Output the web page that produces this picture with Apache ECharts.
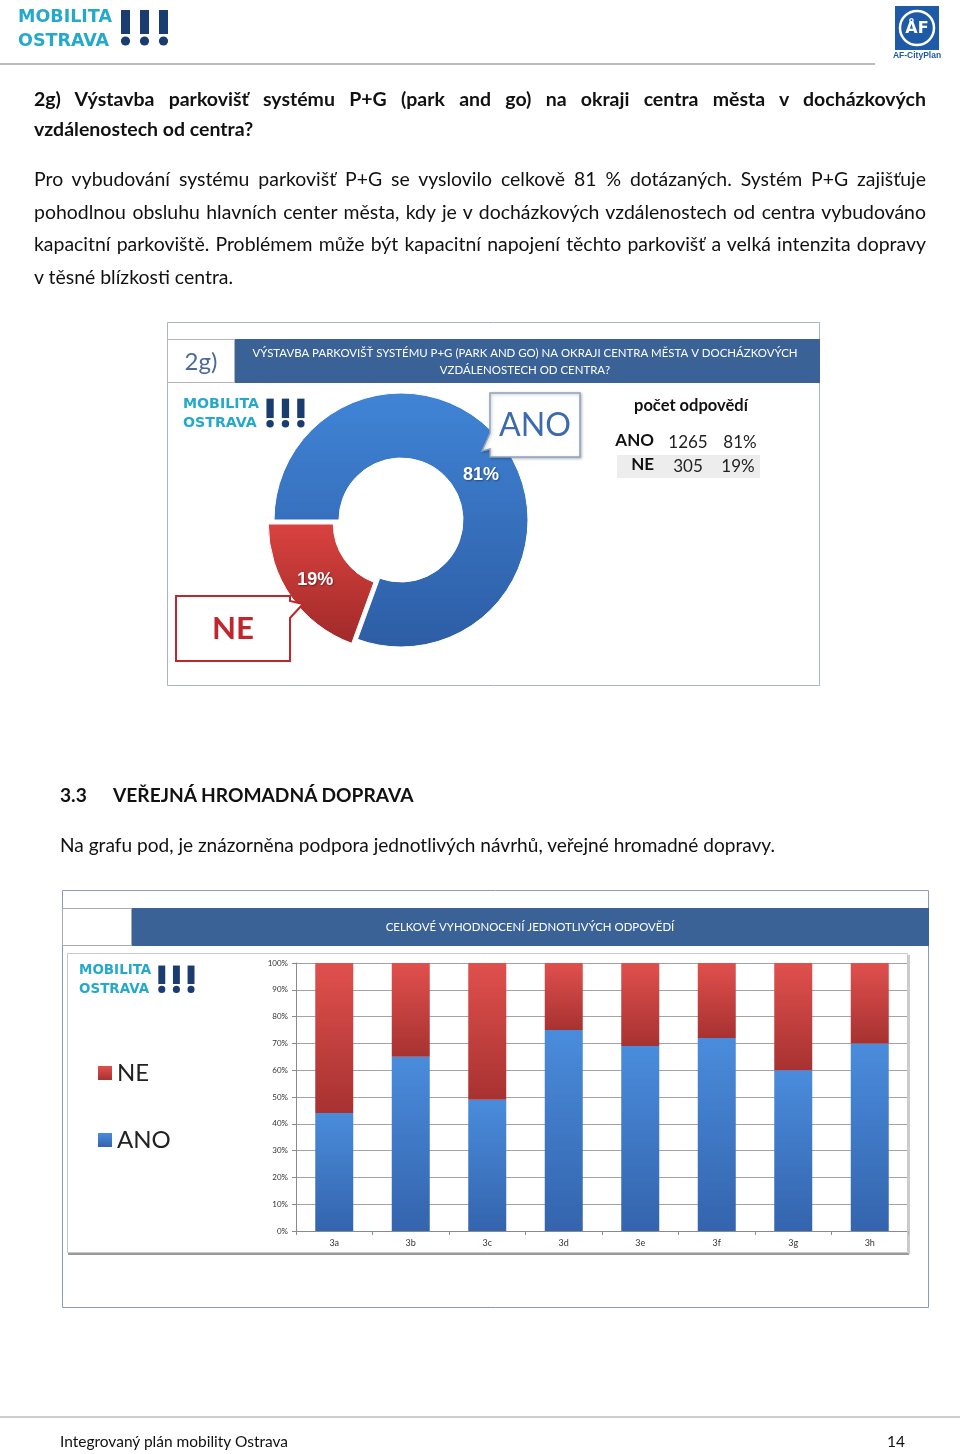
<!DOCTYPE html>
<html><head><meta charset="utf-8">
<script src="https://cdn.jsdelivr.net/npm/echarts@6/dist/echarts.min.js"></script>
<style>
html,body{margin:0;padding:0;background:#fff;}
#page{position:relative;width:960px;height:1454px;overflow:hidden;}
#chart{position:absolute;left:0;top:0;width:960px;height:1454px;}
.t{position:absolute;font-family:Lato,"Open Sans",sans-serif;color:#111;white-space:nowrap;}
.j{text-align:justify;text-align-last:justify;white-space:normal;}
</style></head>
<body><div id="page"><div id="chart"></div></div>
<script>
// ---------- data ----------
const pieNames = ['ANO', 'NE'];
const pieCounts = [1265, 305];
const categories = ['3a', '3b', '3c', '3d', '3e', '3f', '3g', '3h'];
const anoValues = [44, 65, 49, 75, 69, 72, 60, 70];
const neValues  = [56, 35, 51, 25, 31, 28, 40, 30];
const yTicks = [0, 10, 20, 30, 40, 50, 60, 70, 80, 90, 100];

const headingLines = ['2g) Výstavba parkovišť systému P+G (park and go) na okraji centra města v docházkových', 'vzdálenostech od centra?'];
const paraLines = [
  'Pro vybudování systému parkovišť P+G se vyslovilo celkově 81 % dotázaných. Systém P+G zajišťuje',
  'pohodlnou obsluhu hlavních center města, kdy je v docházkových vzdálenostech od centra vybudováno',
  'kapacitní parkoviště. Problémem může být kapacitní napojení těchto parkovišť a velká intenzita dopravy',
  'v těsné blízkosti centra.'
];
const sectionNum = '3.3';
const sectionTitle = 'VEŘEJNÁ HROMADNÁ DOPRAVA';
const captionText = 'Na grafu pod, je znázorněna podpora jednotlivých návrhů, veřejné hromadné dopravy.';
const footerText = 'Integrovaný plán mobility Ostrava';
const pageNum = '14';
const chart1Title = ['VÝSTAVBA PARKOVIŠŤ SYSTÉMU P+G (PARK AND GO) NA OKRAJI CENTRA MĚSTA V DOCHÁZKOVÝCH', 'VZDÁLENOSTECH OD CENTRA?'];
const chart2Title = 'CELKOVÉ VYHODNOCENÍ JEDNOTLIVÝCH ODPOVĚDÍ';
const tableTitle = 'počet odpovědí';

// ---------- helpers ----------
const cv = document.createElement('canvas').getContext('2d');
function measure(txt, weight, size, fam) { cv.font = weight + ' ' + size + 'px ' + fam; return cv.measureText(txt).width; }
function fit(txt, weight, fam, target) { return 100 * target / measure(txt, weight, 100, fam); }

const page = document.getElementById('page');
function addLine(txt, x, y, size, opts) {
  opts = opts || {};
  const d = document.createElement('div');
  d.className = 't' + (opts.w ? ' j' : '');
  d.textContent = txt;
  d.style.left = x + 'px';
  d.style.top = (y - 0.56 * size - 2) + 'px';
  d.style.fontSize = size + 'px';
  d.style.lineHeight = (1.2 * size) + 'px';
  if (opts.w) d.style.width = opts.w + 'px';
  if (opts.bold) d.style.fontWeight = 'bold';
  page.appendChild(d);
}

// heading
let hs = Math.min(19.5, fit(headingLines[0], 'bold', 'Lato', 892) * 0.985);
addLine(headingLines[0], 34, 100, hs, {bold: true, w: 892});
addLine(headingLines[1], 34, 130, hs, {bold: true});
// paragraph
let ps = 19.5;
for (let i = 0; i < 3; i++) ps = Math.min(ps, fit(paraLines[i], 'normal', 'Lato', 892) * 0.985);
const paraY = [180, 212.5, 245, 277.5];
paraLines.forEach((l, i) => addLine(l, 34, paraY[i], ps, i < 3 ? {w: 892} : {}));
// section heading
const ss = fit(sectionTitle, 'bold', 'Lato', 302);
addLine(sectionNum, 60, 796, ss, {bold: true});
addLine(sectionTitle, 113, 796, ss, {bold: true});
const cs = fit(captionText, 'normal', 'Lato', 716);
addLine(captionText, 60, 847, cs);
const fs = fit(footerText, 'normal', 'Lato', 229);
addLine(footerText, 60, 1443, fs);
addLine(pageNum, 887, 1443, fs);

// ---------- graphics ----------
function txt(text, x, y, size, color, opts) {
  opts = opts || {};
  return {type: 'text', z: opts.z || 20, x: x, y: y, silent: true, style: {
    text: text, fill: color, fontSize: size, fontWeight: opts.weight || 'normal',
    fontFamily: opts.fam || 'Lato', align: opts.align || 'left', verticalAlign: 'middle',
    textAlign: opts.align || 'left', textVerticalAlign: 'middle'}};
}
function logo(x0, y0, s) {
  const els = [
    txt('MOBILITA', x0, y0 + 9 * s, 17.5 * s, '#25A9CB', {weight: 'bold', fam: 'DejaVu Sans'}),
    txt('OSTRAVA', x0, y0 + 33 * s, 17.5 * s, '#25A9CB', {weight: 'bold', fam: 'DejaVu Sans'})
  ];
  [103, 122, 141].forEach(dx => {
    els.push({type: 'rect', z: 20, silent: true, shape: {x: x0 + dx * s, y: y0 + 2 * s, width: 9 * s, height: 24 * s}, style: {fill: '#1B3C6E'}});
    els.push({type: 'circle', z: 20, silent: true, shape: {cx: x0 + (dx + 4.5) * s, cy: y0 + 33 * s, r: 4.6 * s}, style: {fill: '#1B3C6E'}});
  });
  return els;
}
function rect(x, y, w, h, style, z) { return {type: 'rect', z: z || 0, silent: true, shape: {x: x, y: y, width: w, height: h}, style: style}; }

const BAR = '#3B6296';
const t1s = fit(chart1Title[0], 'normal', 'Lato', 546);
const t2s = fit(chart2Title, 'normal', 'Lato', 289);
const tts = fit(tableTitle, 'bold', 'Lato', 114);
const total = pieCounts.reduce((a, b) => a + b, 0);
const pct = pieCounts.map(v => Math.round(v / total * 100) + '%');

const graphics = [
  // header
  {type: 'line', z: 1, silent: true, shape: {x1: 0, y1: 64, x2: 875, y2: 64}, style: {stroke: '#BBBBBB', lineWidth: 2}},
  ...logo(18, 8, 1),
  rect(895, 6, 44, 44, {fill: '#1F5AA6'}, 5),
  {type: 'circle', z: 6, silent: true, shape: {cx: 917, cy: 28, r: 17}, style: {fill: 'none', stroke: '#fff', lineWidth: 2.5}},
  txt('ÅF', 917, 29, 16, '#fff', {weight: 'bold', align: 'center', fam: 'DejaVu Sans'}),
  txt('AF-CityPlan', 917, 56, 8.5, '#1F5AA6', {weight: 'bold', align: 'center', fam: 'Liberation Sans Narrow, Liberation Sans'}),
  // footer line
  {type: 'line', z: 1, silent: true, shape: {x1: 0, y1: 1417, x2: 960, y2: 1417}, style: {stroke: '#BDBDBD', lineWidth: 1.5}},

  // ---- panel 1 ----
  rect(167.5, 322.5, 652, 363, {fill: 'none', stroke: '#A9B5C6', lineWidth: 1}, 0),
  rect(235, 339, 585, 44, {fill: BAR}, 1),
  rect(167.5, 339.5, 67, 43, {fill: '#fff', stroke: '#B5B5B5', lineWidth: 1}, 1),
  txt('2g)', 201, 362, 24, '#4B6A9A', {align: 'center'}),
  txt(chart1Title[0], 525, 353, t1s, '#fff', {align: 'center'}),
  txt(chart1Title[1], 525, 370, t1s, '#fff', {align: 'center'}),
  ...logo(183, 397, 0.81),
  // ANO callout
  {type: 'polygon', z: 15, silent: true, shape: {points: [[490, 393], [580, 393], [580, 457], [490, 457], [490, 449], [482, 451], [490, 433]]},
    style: {fill: '#fff', stroke: '#8DA2C0', lineWidth: 1.5, shadowBlur: 3, shadowColor: 'rgba(0,0,0,0.25)', shadowOffsetX: 1, shadowOffsetY: 1}},
  txt(pieNames[0], 535, 426, fit(pieNames[0], 'normal', 'Lato', 72), '#3D6AAE', {align: 'center'}),
  // NE callout
  {type: 'polygon', z: 15, silent: true, shape: {points: [[176, 596], [290, 596], [290, 601], [303, 604], [290, 618], [290, 661], [176, 661]]},
    style: {fill: '#fff', stroke: '#C0272D', lineWidth: 2}},
  txt(pieNames[1], 233, 629, fit(pieNames[1], 'bold', 'Lato', 42), '#C0272D', {align: 'center', weight: 'bold'}),
  // table
  txt(tableTitle, 634, 406, tts, '#111', {weight: 'bold'}),
  rect(617, 455, 143, 23, {fill: '#EDEDED'}, 1),
  txt(pieNames[0], 654, 441, 17, '#111', {align: 'right', weight: 'bold'}),
  txt(String(pieCounts[0]), 688, 443, 17, '#222', {align: 'center'}),
  txt(pct[0], 740, 443, 17, '#222', {align: 'center'}),
  txt(pieNames[1], 654, 465, 17, '#111', {align: 'right', weight: 'bold'}),
  txt(String(pieCounts[1]), 688, 467, 17, '#222', {align: 'center'}),
  txt(pct[1], 738, 467, 17, '#222', {align: 'center'}),

  // ---- panel 2 ----
  rect(62.5, 890.5, 866, 417, {fill: 'none', stroke: '#8C9BB0', lineWidth: 1}, 0),
  rect(132, 908, 797, 38, {fill: BAR}, 1),
  rect(62.5, 908.5, 69, 37, {fill: '#fff', stroke: '#AAAAAA', lineWidth: 1}, 1),
  txt(chart2Title, 530, 927, t2s, '#fff', {align: 'center'}),
  {type: 'line', z: 1, silent: true, shape: {x1: 68, y1: 1254, x2: 909, y2: 1254}, style: {stroke: '#9A9A9A', lineWidth: 2}},
  {type: 'line', z: 1, silent: true, shape: {x1: 909, y1: 955, x2: 909, y2: 1254}, style: {stroke: '#BBBBBB', lineWidth: 1.5}},
  rect(67.5, 953.5, 840, 299, {fill: 'none', stroke: '#C8C8C8', lineWidth: 1}, 1),
  ...logo(79, 964, 0.77)
];

function vgrad(c1, c2) { return {type: 'linear', x: 0, y: 0, x2: 0, y2: 1, colorStops: [{offset: 0, color: c1}, {offset: 1, color: c2}]}; }

const option = {
  animation: false,
  backgroundColor: '#fff',
  textStyle: {fontFamily: 'Lato'},
  graphic: {elements: graphics},
  legend: {
    data: ['NE', 'ANO'], orient: 'vertical', left: 93, top: 1055, icon: 'rect',
    itemWidth: 14, itemHeight: 14, itemGap: 41, selectedMode: false, z: 30,
    textStyle: {fontSize: 24, color: '#222', lineHeight: 26, fontFamily: 'Lato'}
  },
  grid: {left: 296, top: 963, width: 612, height: 268, containLabel: false},
  xAxis: {
    type: 'category', data: categories,
    axisLine: {lineStyle: {color: '#8A8A8A'}},
    axisTick: {show: true, length: 4, lineStyle: {color: '#8A8A8A'}},
    axisLabel: {fontSize: 9, color: '#333', margin: 8}
  },
  yAxis: {
    type: 'value', min: yTicks[0], max: yTicks[yTicks.length - 1], interval: yTicks[1] - yTicks[0],
    axisLine: {show: true, lineStyle: {color: '#8A8A8A'}},
    axisTick: {show: true, length: 4, lineStyle: {color: '#8A8A8A'}},
    axisLabel: {formatter: '{value}%', fontSize: 8, color: '#333', margin: 8},
    splitLine: {lineStyle: {color: '#A3A3A3'}}
  },
  series: [
    {name: 'ANO', type: 'bar', stack: 's', barWidth: 38, data: anoValues, z: 3,
      itemStyle: {color: vgrad('#4A8CDC', '#3464AD')}},
    {name: 'NE', type: 'bar', stack: 's', barWidth: 38, data: neValues, z: 3,
      itemStyle: {color: vgrad('#E0504D', '#A73231')}},
    {type: 'pie', center: [401, 520], radius: [62, 127], startAngle: 180, clockwise: true,
      selectedMode: 'multiple', selectedOffset: 7, silent: true, z: 5,
      itemStyle: {borderColor: '#fff', borderWidth: 1},
      label: {show: true, position: 'inside', color: '#fff', fontSize: 18, fontWeight: 'bold', lineHeight: 22,
        fontFamily: 'Liberation Sans', textShadowColor: 'rgba(0,0,0,0.4)', textShadowBlur: 2, textShadowOffsetX: 1, textShadowOffsetY: 1,
        formatter: p => (p.dataIndex === 0 ? ' \n' : '') + Math.round(p.percent) + '%'},
      labelLine: {show: false},
      emphasis: {disabled: true},
      data: [
        {name: pieNames[0], value: pieCounts[0], itemStyle: {color: vgrad('#4084D6', '#2D5DA5')}},
        {name: pieNames[1], value: pieCounts[1], selected: true, itemStyle: {color: vgrad('#D9423F', '#A02A29')}}
      ]}
  ]
};
const chart = echarts.init(document.getElementById('chart'), null, {renderer: 'canvas', width: 960, height: 1454});
chart.setOption(option);
</script>
</body></html>
